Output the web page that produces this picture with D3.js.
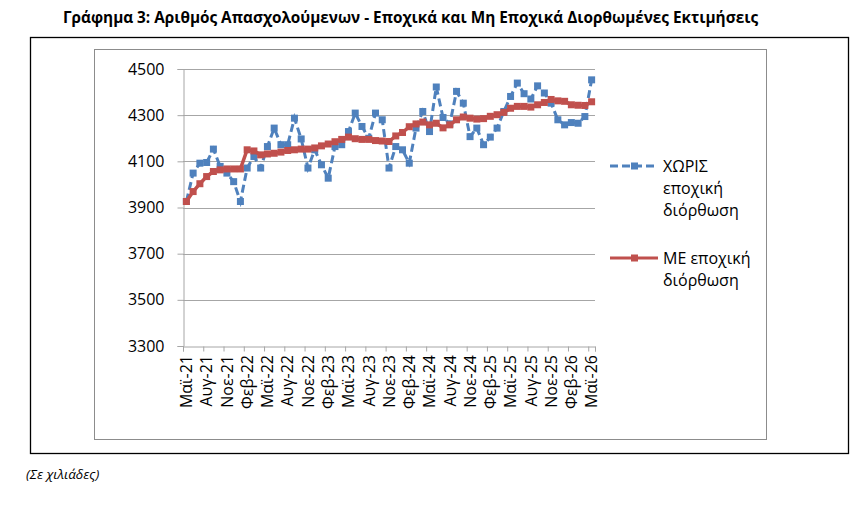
<!DOCTYPE html>
<html>
<head>
<meta charset="utf-8">
<script src="https://cdn.jsdelivr.net/npm/d3@7"></script>
<style>
  body { margin: 0; background: #fff; }
  text { font-family: "Open Sans", "Noto Sans", sans-serif; fill: #000; }
</style>
</head>
<body>
<div id="chart"></div>
<script>
// mois et années (catégories mensuelles Μαϊ-21 ... Μαϊ-26)
const monthNames = ["Ιαν", "Φεβ", "Μαρ", "Απρ", "Μαϊ", "Ιουν", "Ιουλ", "Αυγ", "Σεπ", "Οκτ", "Νοε", "Δεκ"];
const years = ["21", "22", "23", "24", "25", "26"];
const categories = [];
years.forEach(y => monthNames.forEach(m => categories.push(m + "-" + y)));
const months = categories.slice(4, 65);

// séries (en milliers)
const withoutAdj = [3926, 4049, 4092, 4095, 4153, 4078, 4049, 4012, 3926, 4071,
  4121, 4071, 4164, 4244, 4172, 4172, 4287, 4197, 4071, 4150,
  4085, 4027, 4164, 4172, 4229, 4309, 4251, 4200, 4309, 4280,
  4071, 4164, 4150, 4092, 4244, 4316, 4229, 4422, 4290, 4262,
  4403, 4352, 4207, 4244, 4172, 4205, 4244, 4316, 4381, 4439,
  4393, 4370, 4427, 4396, 4352, 4280, 4258, 4268, 4265, 4294, 4453];
const withAdj = [3926, 3969, 4003, 4034, 4056, 4063, 4067, 4067, 4067, 4150,
  4145, 4128, 4132, 4135, 4140, 4147, 4150, 4153, 4153, 4158,
  4167, 4175, 4185, 4195, 4205, 4198, 4195, 4195, 4190, 4188,
  4186, 4210, 4225, 4250, 4262, 4270, 4258, 4265, 4245, 4258,
  4280, 4292, 4287, 4283, 4285, 4295, 4302, 4312, 4330, 4338,
  4338, 4335, 4345, 4355, 4368, 4362, 4360, 4345, 4343, 4342, 4358];
const yTicks = [3300, 3500, 3700, 3900, 4100, 4300, 4500];
const seriesNames = [["ΧΩΡΙΣ", "εποχική", "διόρθωση"], ["ΜΕ εποχική", "διόρθωση"]];

const width = 862, height = 512;
const plot = { left: 183, right: 595, top: 69, bottom: 346 };
const blue = "#4f81bd", red = "#c0504d", grid = "#a6a6a6";

const svg = d3.select("#chart").append("svg")
  .attr("width", width)
  .attr("height", height);

// titre
svg.append("text")
  .attr("x", 63).attr("y", 23)
  .attr("font-size", 16).attr("font-weight", "bold")
  .attr("textLength", 695).attr("lengthAdjust", "spacingAndGlyphs")
  .text("Γράφημα 3: Αριθμός Απασχολούμενων - Εποχικά και Μη Εποχικά Διορθωμένες Εκτιμήσεις");

// cadre noir + cadre gris du graphique
svg.append("rect").attr("x", 30.5).attr("y", 37.5).attr("width", 818).attr("height", 416)
  .attr("fill", "none").attr("stroke", "#000").attr("stroke-width", 1.3);
svg.append("rect").attr("x", 94.5).attr("y", 49.5).attr("width", 672).attr("height", 390)
  .attr("fill", "none").attr("stroke", "#8c8c8c").attr("stroke-width", 1);

// échelles
const x = d3.scaleBand().domain(months).range([plot.left, plot.right]).paddingInner(0).paddingOuter(0);
const xb = d3.scaleLinear().domain([0, months.length]).range([plot.left, plot.right]);
const y = d3.scaleLinear().domain([3300, 4500]).range([plot.bottom, plot.top]);
const cx = d => x(d) + x.bandwidth() / 2;

// grille horizontale
svg.append("g")
  .selectAll("line")
  .data(yTicks.slice(1))
  .join("line")
  .attr("x1", plot.left).attr("x2", plot.right)
  .attr("y1", d => Math.round(y(d)) + 0.5).attr("y2", d => Math.round(y(d)) + 0.5)
  .attr("stroke", grid);

// axe Y
const gy = svg.append("g")
  .attr("transform", `translate(${plot.left + 0.5},0)`)
  .call(d3.axisLeft(y).tickValues(yTicks).tickSize(6).tickPadding(13).tickFormat(d3.format("d")));
gy.selectAll("text").attr("font-size", 16).attr("font-family", "Open Sans");
gy.selectAll("line, path").attr("stroke", grid);

// axe X : traits tous les 3 mois
const gxt = svg.append("g")
  .attr("transform", `translate(0,${plot.bottom + 0.5})`)
  .call(d3.axisBottom(xb).tickValues(d3.range(0, months.length, 3).concat([months.length])).tickSize(5).tickFormat(""));
gxt.selectAll("line, path").attr("stroke", grid);

// axe X : étiquettes verticales
const gx = svg.append("g")
  .attr("transform", `translate(0,${plot.bottom})`)
  .call(d3.axisBottom(x).tickValues(months.filter((d, i) => i % 3 === 0)).tickSize(0));
gx.select(".domain").remove();
gx.selectAll("text")
  .attr("font-size", 16).attr("font-family", "Open Sans")
  .attr("text-anchor", "end")
  .attr("transform", "rotate(-90)")
  .attr("x", -9).attr("y", 0).attr("dy", "0.36em");

// lignes
const line = d3.line().x((d, i) => cx(months[i])).y(d => y(d));

svg.append("path").datum(withoutAdj)
  .attr("fill", "none").attr("stroke", blue).attr("stroke-width", 3)
  .attr("stroke-dasharray", "8,4")
  .attr("d", line);
svg.append("g").selectAll("rect").data(withoutAdj).join("rect")
  .attr("x", (d, i) => cx(months[i]) - 3.5).attr("y", d => y(d) - 3.5)
  .attr("width", 7).attr("height", 7).attr("fill", blue);

svg.append("path").datum(withAdj)
  .attr("fill", "none").attr("stroke", red).attr("stroke-width", 3.5)
  .attr("d", line);
svg.append("g").selectAll("rect").data(withAdj).join("rect")
  .attr("x", (d, i) => cx(months[i]) - 3.5).attr("y", d => y(d) - 3.5)
  .attr("width", 7).attr("height", 7).attr("fill", red);

// légende
const legend = [
  { color: blue, dash: "8,4", ly: 166, lines: seriesNames[0] },
  { color: red, dash: null, ly: 258, lines: seriesNames[1] }
];
legend.forEach(l => {
  svg.append("line")
    .attr("x1", 610).attr("x2", 658).attr("y1", l.ly).attr("y2", l.ly)
    .attr("stroke", l.color).attr("stroke-width", 3)
    .attr("stroke-dasharray", l.dash);
  svg.append("rect").attr("x", 631).attr("y", l.ly - 3.5).attr("width", 7).attr("height", 7).attr("fill", l.color);
  l.lines.forEach((t, k) => {
    svg.append("text")
      .attr("x", 663).attr("y", l.ly + k * 22).attr("dy", "0.36em")
      .attr("font-size", 16)
      .text(t);
  });
});

// note
svg.append("text")
  .attr("x", 26).attr("y", 474).attr("dy", "0.35em")
  .attr("font-size", 13.5).attr("font-style", "italic")
  .text("(Σε χιλιάδες)");
</script>
</body>
</html>
